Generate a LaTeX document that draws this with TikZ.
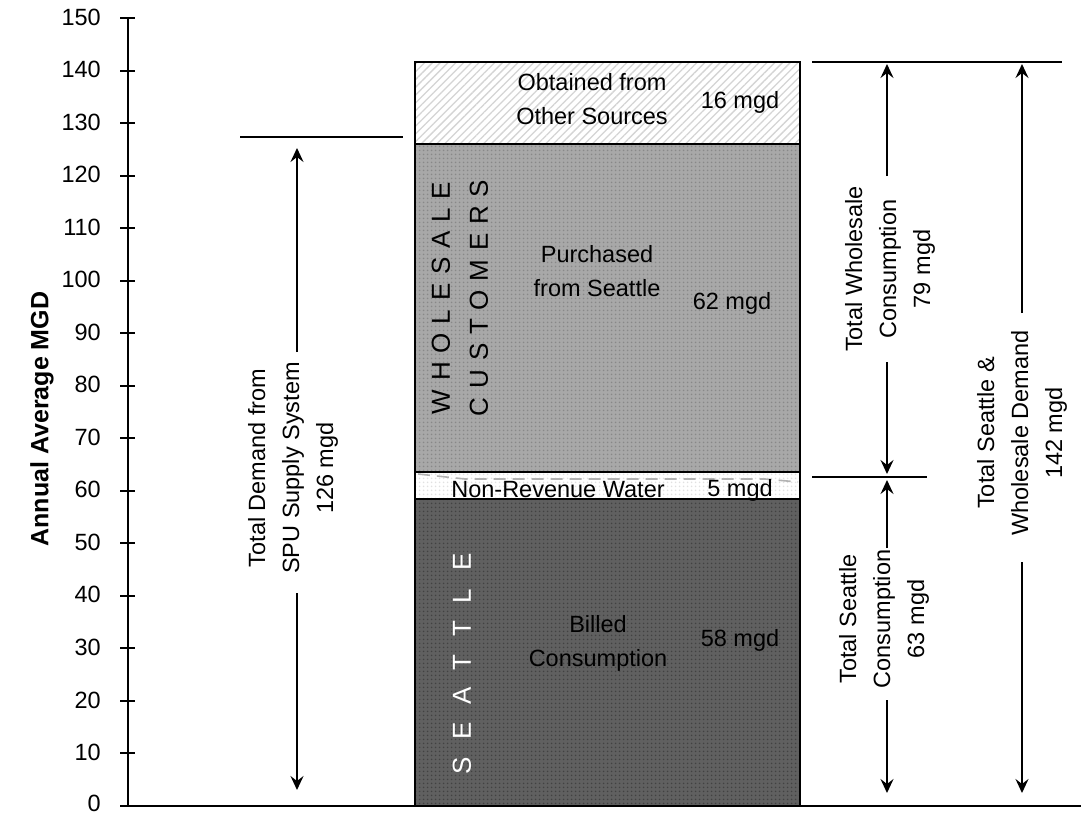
\documentclass[tikz,border=0pt]{standalone}
\usepackage{fontspec}
\setmainfont{Liberation Sans}
\usetikzlibrary{arrows.meta,patterns.meta}
\definecolor{wsgray}{RGB}{168,168,168}
\definecolor{wsdot}{RGB}{136,136,136}
\definecolor{stgray}{RGB}{96,96,96}
\definecolor{stdot}{RGB}{66,66,66}
\definecolor{nrwdot}{RGB}{225,225,225}
\definecolor{hatch}{RGB}{212,212,212}
\tikzset{
  lbl/.style={font=\fontsize{23.5}{34}\selectfont, align=center, inner sep=0pt},
  axisline/.style={line width=2pt},
  barline/.style={line width=2pt},
  dimline/.style={line width=2pt},
  dimarrow/.style={line width=2pt,-{Stealth[length=14pt,width=13pt,inset=5pt]}},
  spaced/.style={font=\fontsize{26}{38}\selectfont\addfontfeatures{LetterSpace=34}, align=center, inner sep=0pt},
}
\begin{document}
\begin{tikzpicture}[x=1pt,y=-1pt]
\useasboundingbox (0,0) rectangle (1081,814);
% bars
\fill[white] (415,62) rectangle (800,144);
\pattern[pattern={Lines[angle=45,distance=5.5pt,line width=1.3pt]},pattern color=hatch] (415,62) rectangle (800,144);
\fill[wsgray] (415,144) rectangle (800,472);
\pattern[pattern={Dots[distance=4pt,radius=1.1pt]},pattern color=wsdot] (415,144) rectangle (800,472);
\fill[white] (415,472) rectangle (800,499);
\pattern[pattern={Dots[distance=4pt,radius=1.1pt]},pattern color=nrwdot] (415,472) rectangle (800,499);
\fill[stgray] (415,499) rectangle (800,806);
\pattern[pattern={Dots[distance=4pt,radius=1.1pt]},pattern color=stdot] (415,499) rectangle (800,806);
\draw[gray!60,line width=1.6pt,dash pattern=on 12pt off 7pt] (418,474) -- (465,479) -- (765,479) -- (798,482);
\draw[barline] (415,62) rectangle (800,806);
\draw[barline] (415,144) -- (800,144);
\draw[barline] (415,472) -- (800,472);
\draw[barline] (415,499) -- (800,499);
% axis
\draw[axisline] (128,18) -- (128,806);
\draw[axisline] (120,806) -- (1081,806);
\foreach \k in {0,...,15} {
  \pgfmathsetmacro\yy{806-52.533*\k}
  \draw[axisline] (120,\yy) -- (135,\yy);
}
\foreach \k in {1,...,15} {
  \pgfmathsetmacro\yy{806-52.533*\k}
  \pgfmathtruncatemacro\val{10*\k}
  \node[lbl,anchor=east] (tick\k) at (101,\yy-1) {\val};
}
\node[lbl,anchor=east] (tick0) at (101,803) {0};
\node[lbl,font=\fontsize{25}{34}\selectfont\bfseries,rotate=90] (ytitle) at (42,419) {Annual Average MGD};
% bar labels
\node[lbl] (obt) at (592,99) {Obtained from\\Other Sources};
\node[lbl] (obtv) at (740,102) {16 mgd};
\node[spaced] (wc) at (460,298) [rotate=90] {WHOLESALE\\CUSTOMERS};
\node[lbl] (pur) at (597,271) {Purchased\\from Seattle};
\node[lbl] (purv) at (732,303) {62 mgd};
\node[lbl] (nrw) at (558,490) {Non-Revenue Water};
\node[lbl] (nrwv) at (740,490) {5 mgd};
\node[spaced,text=white,font=\fontsize{26}{38}\selectfont\addfontfeatures{LetterSpace=69}] (sea) at (462,664) [rotate=90] {SEATTLE};
\node[lbl] (bil) at (598,643) {Billed\\Consumption};
\node[lbl] (bilv) at (740,640) {58 mgd};
% left dimension
\draw[dimline] (240,137) -- (403,137);
\coordinate (Ltop) at (297,148);
\coordinate (Lbot) at (297,790);
\coordinate (La) at (297,352);
\coordinate (Lb) at (297,593);
\node[lbl,rotate=90] (Ltext) at (293,468) {Total Demand from\\SPU Supply System\\126 mgd};
\draw[dimarrow] (La) -- (Ltop);
\draw[dimarrow] (Lb) -- (Lbot);
% right dimensions
\draw[dimline] (812,62) -- (1062,62);
\draw[dimline] (812,477) -- (927,477);
\coordinate (Wtop) at (887,64);
\coordinate (Wbot) at (887,474);
\coordinate (Wa) at (887,176);
\coordinate (Wb) at (887,362);
\node[lbl,rotate=90] (Wtext) at (890,269) {Total Wholesale\\Consumption\\79 mgd};
\draw[dimarrow] (Wa) -- (Wtop);
\draw[dimarrow] (Wb) -- (Wbot);
\coordinate (Stop) at (887,480);
\coordinate (Sbot) at (887,793);
\coordinate (Sa) at (887,548);
\coordinate (Sb) at (887,700);
\node[lbl,rotate=90] (Stext) at (884,619) {Total Seattle\\Consumption\\63 mgd};
\draw[dimarrow] (Sa) -- (Stop);
\draw[dimarrow] (Sb) -- (Sbot);
\coordinate (Ttop) at (1022,64);
\coordinate (Tbot) at (1022,793);
\coordinate (Ta) at (1022,313);
\coordinate (Tb) at (1022,562);
\node[lbl,rotate=90] (Ttext) at (1022,433) {Total Seattle \&\\Wholesale Demand\\142 mgd};
\draw[dimarrow] (Ta) -- (Ttop);
\draw[dimarrow] (Tb) -- (Tbot);
\end{tikzpicture}
\end{document}
